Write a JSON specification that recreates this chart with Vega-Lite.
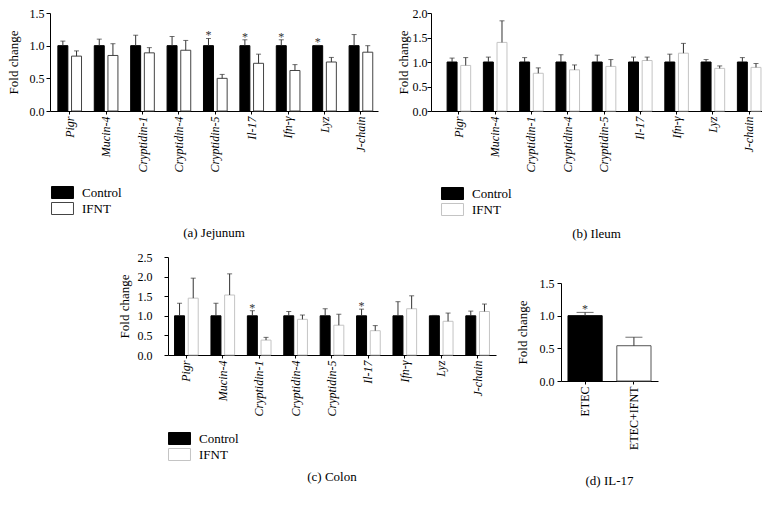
{
  "$schema": "https://vega.github.io/schema/vega-lite/v6.json",
  "padding": {"left": 7, "top": 7, "right": 0, "bottom": 0},
  "background": "white",
  "datasets": {
    "jejunum": [
      {"gene": "Pigr", "group": "Control", "mean": 1.0, "upper": 1.07, "sig": ""},
      {"gene": "Pigr", "group": "IFNT", "mean": 0.84, "upper": 0.92, "sig": ""},
      {"gene": "Mucin-4", "group": "Control", "mean": 1.0, "upper": 1.10, "sig": ""},
      {"gene": "Mucin-4", "group": "IFNT", "mean": 0.85, "upper": 1.03, "sig": ""},
      {"gene": "Cryptidin-1", "group": "Control", "mean": 1.0, "upper": 1.16, "sig": ""},
      {"gene": "Cryptidin-1", "group": "IFNT", "mean": 0.89, "upper": 0.97, "sig": ""},
      {"gene": "Cryptidin-4", "group": "Control", "mean": 1.0, "upper": 1.14, "sig": ""},
      {"gene": "Cryptidin-4", "group": "IFNT", "mean": 0.93, "upper": 1.08, "sig": ""},
      {"gene": "Cryptidin-5", "group": "Control", "mean": 1.0, "upper": 1.11, "sig": "*"},
      {"gene": "Cryptidin-5", "group": "IFNT", "mean": 0.50, "upper": 0.56, "sig": ""},
      {"gene": "Il-17", "group": "Control", "mean": 1.0, "upper": 1.09, "sig": "*"},
      {"gene": "Il-17", "group": "IFNT", "mean": 0.73, "upper": 0.87, "sig": ""},
      {"gene": "Ifn-γ", "group": "Control", "mean": 1.0, "upper": 1.09, "sig": "*"},
      {"gene": "Ifn-γ", "group": "IFNT", "mean": 0.62, "upper": 0.71, "sig": ""},
      {"gene": "Lyz", "group": "Control", "mean": 1.0, "upper": 1.005, "sig": "*"},
      {"gene": "Lyz", "group": "IFNT", "mean": 0.75, "upper": 0.82, "sig": ""},
      {"gene": "J-chain", "group": "Control", "mean": 1.0, "upper": 1.17, "sig": ""},
      {"gene": "J-chain", "group": "IFNT", "mean": 0.90, "upper": 1.00, "sig": ""}
    ],
    "ileum": [
      {"gene": "Pigr", "group": "Control", "mean": 1.0, "upper": 1.08, "sig": ""},
      {"gene": "Pigr", "group": "IFNT", "mean": 0.93, "upper": 1.09, "sig": ""},
      {"gene": "Mucin-4", "group": "Control", "mean": 1.0, "upper": 1.10, "sig": ""},
      {"gene": "Mucin-4", "group": "IFNT", "mean": 1.40, "upper": 1.84, "sig": ""},
      {"gene": "Cryptidin-1", "group": "Control", "mean": 1.0, "upper": 1.09, "sig": ""},
      {"gene": "Cryptidin-1", "group": "IFNT", "mean": 0.77, "upper": 0.88, "sig": ""},
      {"gene": "Cryptidin-4", "group": "Control", "mean": 1.0, "upper": 1.15, "sig": ""},
      {"gene": "Cryptidin-4", "group": "IFNT", "mean": 0.84, "upper": 0.94, "sig": ""},
      {"gene": "Cryptidin-5", "group": "Control", "mean": 1.0, "upper": 1.14, "sig": ""},
      {"gene": "Cryptidin-5", "group": "IFNT", "mean": 0.91, "upper": 1.05, "sig": ""},
      {"gene": "Il-17", "group": "Control", "mean": 1.0, "upper": 1.10, "sig": ""},
      {"gene": "Il-17", "group": "IFNT", "mean": 1.03, "upper": 1.10, "sig": ""},
      {"gene": "Ifn-γ", "group": "Control", "mean": 1.0, "upper": 1.16, "sig": ""},
      {"gene": "Ifn-γ", "group": "IFNT", "mean": 1.18, "upper": 1.38, "sig": ""},
      {"gene": "Lyz", "group": "Control", "mean": 1.0, "upper": 1.05, "sig": ""},
      {"gene": "Lyz", "group": "IFNT", "mean": 0.87, "upper": 0.92, "sig": ""},
      {"gene": "J-chain", "group": "Control", "mean": 1.0, "upper": 1.09, "sig": ""},
      {"gene": "J-chain", "group": "IFNT", "mean": 0.89, "upper": 0.97, "sig": ""}
    ],
    "colon": [
      {"gene": "Pigr", "group": "Control", "mean": 1.0, "upper": 1.32, "sig": ""},
      {"gene": "Pigr", "group": "IFNT", "mean": 1.45, "upper": 1.96, "sig": ""},
      {"gene": "Mucin-4", "group": "Control", "mean": 1.0, "upper": 1.32, "sig": ""},
      {"gene": "Mucin-4", "group": "IFNT", "mean": 1.53, "upper": 2.07, "sig": ""},
      {"gene": "Cryptidin-1", "group": "Control", "mean": 1.0, "upper": 1.13, "sig": "*"},
      {"gene": "Cryptidin-1", "group": "IFNT", "mean": 0.38, "upper": 0.45, "sig": ""},
      {"gene": "Cryptidin-4", "group": "Control", "mean": 1.0, "upper": 1.11, "sig": ""},
      {"gene": "Cryptidin-4", "group": "IFNT", "mean": 0.91, "upper": 1.02, "sig": ""},
      {"gene": "Cryptidin-5", "group": "Control", "mean": 1.0, "upper": 1.18, "sig": ""},
      {"gene": "Cryptidin-5", "group": "IFNT", "mean": 0.76, "upper": 1.04, "sig": ""},
      {"gene": "Il-17", "group": "Control", "mean": 1.0, "upper": 1.17, "sig": "*"},
      {"gene": "Il-17", "group": "IFNT", "mean": 0.62, "upper": 0.75, "sig": ""},
      {"gene": "Ifn-γ", "group": "Control", "mean": 1.0, "upper": 1.36, "sig": ""},
      {"gene": "Ifn-γ", "group": "IFNT", "mean": 1.18, "upper": 1.51, "sig": ""},
      {"gene": "Lyz", "group": "Control", "mean": 1.0, "upper": 1.01, "sig": ""},
      {"gene": "Lyz", "group": "IFNT", "mean": 0.86, "upper": 1.07, "sig": ""},
      {"gene": "J-chain", "group": "Control", "mean": 1.0, "upper": 1.12, "sig": ""},
      {"gene": "J-chain", "group": "IFNT", "mean": 1.11, "upper": 1.30, "sig": ""}
    ],
    "il17": [
      {"group": "ETEC", "mean": 1.0, "upper": 1.05, "sig": "*"},
      {"group": "ETEC+IFNT", "mean": 0.54, "upper": 0.67, "sig": ""}
    ]
  },
  "config": {
    "font": "Liberation Serif",
    "view": {"stroke": null},
    "style": {
      "guide-label": {"font": "Liberation Serif", "fontSize": 12, "fill": "#000"},
      "guide-title": {"font": "Liberation Serif", "fontSize": 13, "fontWeight": "normal", "fill": "#000"},
      "group-title": {"font": "Liberation Serif", "fontSize": 13, "fontWeight": "normal"}
    },
    "axis": {"domainColor": "#000", "tickColor": "#000", "grid": false, "tickSize": 4, "labelOverlap": false, "labelFont": "Liberation Serif", "labelFontSize": 12, "titleFont": "Liberation Serif", "titleFontSize": 13, "titleFontWeight": "normal"},
    "legend": {"labelFont": "Liberation Serif", "labelFontSize": 13, "labelColor": "#000"},
    "title": {"font": "Liberation Serif", "fontSize": 13, "fontWeight": "normal", "color": "#000", "orient": "bottom", "anchor": "middle"}
  },
  "align": "none",
  "resolve": {"scale": {"fill": "independent", "stroke": "independent", "xOffset": "independent"}, "legend": {"fill": "independent", "stroke": "independent"}},
  "vconcat": [
    {
      "align": "none",
      "hconcat": [
        {
          "width": 328, "height": 98,
          "data": {"name": "jejunum"},
          "title": {"text": "(a)  Jejunum", "offset": 10},
          "encoding": {
            "x": {"field": "gene", "type": "nominal", "sort": null, "scale": {"paddingInner": 0.35, "paddingOuter": 0.18, "align": 0.6}, "axis": {"title": null, "labelAngle": -90, "labelFont": "Liberation Serif", "labelFontSize": 12, "labelFontStyle": "italic", "labelColor": "#000", "labelPadding": 2, "tickSize": 3, "domainColor": "#000", "tickColor": "#000", "labelOverlap": false}},
            "xOffset": {"field": "group", "type": "nominal", "scale": {"paddingInner": 0.27}}
          },
          "layer": [
            {"mark": {"type": "bar", "strokeWidth": 1},
             "encoding": {
               "y": {"field": "mean", "type": "quantitative", "scale": {"domain": [0, 1.5], "nice": false}, "axis": {"title": "Fold change", "values": [0, 0.5, 1, 1.5], "format": ".1f", "labelFont": "Liberation Serif", "labelFontSize": 12, "labelColor": "#000", "titleFont": "Liberation Serif", "titleFontSize": 13, "titleFontWeight": "normal", "titleColor": "#000", "labelPadding": 2, "titlePadding": 9, "labelOverlap": false, "domainColor": "#000", "tickColor": "#000", "tickSize": 4}},
               "fill": {"field": "group", "type": "nominal", "scale": {"domain": ["Control", "IFNT"], "range": ["#000000", "#ffffff"]}, "legend": {"title": null, "orient": "none", "legendX": 6, "legendY": 173, "padding": 0, "symbolType": "M-1.83,-1H1.83V1H-1.83Z", "symbolSize": 144, "symbolStrokeWidth": 1, "labelOffset": 13, "rowPadding": -1, "labelFont": "Liberation Serif", "labelFontSize": 13, "labelColor": "#000"}},
               "stroke": {"field": "group", "type": "nominal", "scale": {"domain": ["Control", "IFNT"], "range": ["#000000", "#444444"]}, "legend": {"title": null, "orient": "none", "legendX": 6, "legendY": 173, "padding": 0, "symbolType": "M-1.83,-1H1.83V1H-1.83Z", "symbolSize": 144, "symbolStrokeWidth": 1, "labelOffset": 13, "rowPadding": -1, "labelFont": "Liberation Serif", "labelFontSize": 13, "labelColor": "#000"}}
             }},
            {"mark": {"type": "rule", "color": "#333"}, "encoding": {"y": {"field": "mean", "type": "quantitative", "axis": {"title": "Fold change", "values": [0, 0.5, 1, 1.5], "format": ".1f", "labelFont": "Liberation Serif", "labelFontSize": 12, "labelColor": "#000", "titleFont": "Liberation Serif", "titleFontSize": 13, "titleFontWeight": "normal", "titleColor": "#000", "labelPadding": 2, "titlePadding": 9, "labelOverlap": false, "domainColor": "#000", "tickColor": "#000", "tickSize": 4}}, "y2": {"field": "upper"}}},
            {"mark": {"type": "tick", "color": "#333", "thickness": 1, "size": 5}, "encoding": {"y": {"field": "upper", "type": "quantitative", "axis": {"title": "Fold change", "values": [0, 0.5, 1, 1.5], "format": ".1f", "labelFont": "Liberation Serif", "labelFontSize": 12, "labelColor": "#000", "titleFont": "Liberation Serif", "titleFontSize": 13, "titleFontWeight": "normal", "titleColor": "#000", "labelPadding": 2, "titlePadding": 9, "labelOverlap": false, "domainColor": "#000", "tickColor": "#000", "tickSize": 4}}}},
            {"mark": {"type": "text", "font": "Liberation Serif", "fontSize": 12, "baseline": "alphabetic", "dy": 1, "color": "#333"}, "encoding": {"y": {"field": "upper", "type": "quantitative", "axis": {"title": "Fold change", "values": [0, 0.5, 1, 1.5], "format": ".1f", "labelFont": "Liberation Serif", "labelFontSize": 12, "labelColor": "#000", "titleFont": "Liberation Serif", "titleFontSize": 13, "titleFontWeight": "normal", "titleColor": "#000", "labelPadding": 2, "titlePadding": 9, "labelOverlap": false, "domainColor": "#000", "tickColor": "#000", "tickSize": 4}}, "text": {"field": "sig"}}}
          ]
        },
        {
          "width": 331, "height": 98,
          "data": {"name": "ileum"},
          "title": {"text": "(b)  Ileum", "offset": 10},
          "encoding": {
            "x": {"field": "gene", "type": "nominal", "sort": null, "scale": {"paddingInner": 0.35, "paddingOuter": 0.236, "align": 0.94}, "axis": {"title": null, "labelAngle": -90, "labelFont": "Liberation Serif", "labelFontSize": 12, "labelFontStyle": "italic", "labelColor": "#000", "labelPadding": 2, "tickSize": 3, "domainColor": "#000", "tickColor": "#000", "labelOverlap": false}},
            "xOffset": {"field": "group", "type": "nominal", "scale": {"paddingInner": 0.27}}
          },
          "layer": [
            {"mark": {"type": "bar", "strokeWidth": 1},
             "encoding": {
               "y": {"field": "mean", "type": "quantitative", "scale": {"domain": [0, 2], "nice": false}, "axis": {"title": "Fold change", "values": [0, 0.5, 1, 1.5, 2], "format": ".1f", "labelFont": "Liberation Serif", "labelFontSize": 12, "labelColor": "#000", "titleFont": "Liberation Serif", "titleFontSize": 13, "titleFontWeight": "normal", "titleColor": "#000", "labelPadding": 0, "titlePadding": 2, "labelOverlap": false, "domainColor": "#000", "tickColor": "#000", "tickSize": 4}},
               "fill": {"field": "group", "type": "nominal", "scale": {"domain": ["Control", "IFNT"], "range": ["#000000", "#ffffff"]}, "legend": {"title": null, "orient": "none", "legendX": 15, "legendY": 174, "padding": 0, "symbolType": "M-1.83,-1H1.83V1H-1.83Z", "symbolSize": 144, "symbolStrokeWidth": 1, "labelOffset": 13, "rowPadding": -1, "labelFont": "Liberation Serif", "labelFontSize": 13, "labelColor": "#000"}},
               "stroke": {"field": "group", "type": "nominal", "scale": {"domain": ["Control", "IFNT"], "range": ["#000000", "#c4c4c4"]}, "legend": {"title": null, "orient": "none", "legendX": 15, "legendY": 174, "padding": 0, "symbolType": "M-1.83,-1H1.83V1H-1.83Z", "symbolSize": 144, "symbolStrokeWidth": 1, "labelOffset": 13, "rowPadding": -1, "labelFont": "Liberation Serif", "labelFontSize": 13, "labelColor": "#000"}}
             }},
            {"mark": {"type": "rule", "color": "#333"}, "encoding": {"y": {"field": "mean", "type": "quantitative", "axis": {"title": "Fold change", "values": [0, 0.5, 1, 1.5, 2], "format": ".1f", "labelFont": "Liberation Serif", "labelFontSize": 12, "labelColor": "#000", "titleFont": "Liberation Serif", "titleFontSize": 13, "titleFontWeight": "normal", "titleColor": "#000", "labelPadding": 0, "titlePadding": 2, "labelOverlap": false, "domainColor": "#000", "tickColor": "#000", "tickSize": 4}}, "y2": {"field": "upper"}}},
            {"mark": {"type": "tick", "color": "#333", "thickness": 1, "size": 5}, "encoding": {"y": {"field": "upper", "type": "quantitative", "axis": {"title": "Fold change", "values": [0, 0.5, 1, 1.5, 2], "format": ".1f", "labelFont": "Liberation Serif", "labelFontSize": 12, "labelColor": "#000", "titleFont": "Liberation Serif", "titleFontSize": 13, "titleFontWeight": "normal", "titleColor": "#000", "labelPadding": 0, "titlePadding": 2, "labelOverlap": false, "domainColor": "#000", "tickColor": "#000", "tickSize": 4}}}},
            {"mark": {"type": "text", "font": "Liberation Serif", "fontSize": 12, "baseline": "alphabetic", "dy": 1, "color": "#333"}, "encoding": {"y": {"field": "upper", "type": "quantitative", "axis": {"title": "Fold change", "values": [0, 0.5, 1, 1.5, 2], "format": ".1f", "labelFont": "Liberation Serif", "labelFontSize": 12, "labelColor": "#000", "titleFont": "Liberation Serif", "titleFontSize": 13, "titleFontWeight": "normal", "titleColor": "#000", "labelPadding": 0, "titlePadding": 2, "labelOverlap": false, "domainColor": "#000", "tickColor": "#000", "tickSize": 4}}, "text": {"field": "sig"}}}
          ]
        }
      ],
      "spacing": 19,
      "resolve": {"scale": {"fill": "independent", "stroke": "independent", "xOffset": "independent"}, "legend": {"fill": "independent", "stroke": "independent"}}
    },
    {
      "align": "none",
      "hconcat": [
        {"width": 48, "height": 10, "data": {"values": [{"a": 1}]}, "mark": {"type": "text"}, "encoding": {"text": {"value": ""}}},
        {
          "width": 328, "height": 98,
          "data": {"name": "colon"},
          "title": {"text": "(c)  Colon", "offset": 8},
          "encoding": {
            "x": {"field": "gene", "type": "nominal", "sort": null, "scale": {"paddingInner": 0.35, "paddingOuter": 0.18, "align": 0.5}, "axis": {"title": null, "labelAngle": -90, "labelFont": "Liberation Serif", "labelFontSize": 12, "labelFontStyle": "italic", "labelColor": "#000", "labelPadding": 2, "tickSize": 3, "domainColor": "#000", "tickColor": "#000", "labelOverlap": false}},
            "xOffset": {"field": "group", "type": "nominal", "scale": {"paddingInner": 0.27}}
          },
          "layer": [
            {"mark": {"type": "bar", "strokeWidth": 1},
             "encoding": {
               "y": {"field": "mean", "type": "quantitative", "scale": {"domain": [0, 2.5], "nice": false}, "axis": {"title": "Fold change", "values": [0, 0.5, 1, 1.5, 2, 2.5], "format": ".1f", "labelFont": "Liberation Serif", "labelFontSize": 12, "labelColor": "#000", "titleFont": "Liberation Serif", "titleFontSize": 13, "titleFontWeight": "normal", "titleColor": "#000", "labelPadding": 12, "titlePadding": 6, "labelOverlap": false, "domainColor": "#000", "tickColor": "#000", "tickSize": 4}},
               "fill": {"field": "group", "type": "nominal", "scale": {"domain": ["Control", "IFNT"], "range": ["#000000", "#ffffff"]}, "legend": {"title": null, "orient": "none", "legendX": 5, "legendY": 175, "padding": 0, "symbolType": "M-1.83,-1H1.83V1H-1.83Z", "symbolSize": 144, "symbolStrokeWidth": 1, "labelOffset": 13, "rowPadding": -1, "labelFont": "Liberation Serif", "labelFontSize": 13, "labelColor": "#000"}},
               "stroke": {"field": "group", "type": "nominal", "scale": {"domain": ["Control", "IFNT"], "range": ["#000000", "#c4c4c4"]}, "legend": {"title": null, "orient": "none", "legendX": 5, "legendY": 175, "padding": 0, "symbolType": "M-1.83,-1H1.83V1H-1.83Z", "symbolSize": 144, "symbolStrokeWidth": 1, "labelOffset": 13, "rowPadding": -1, "labelFont": "Liberation Serif", "labelFontSize": 13, "labelColor": "#000"}}
             }},
            {"mark": {"type": "rule", "color": "#333"}, "encoding": {"y": {"field": "mean", "type": "quantitative", "axis": {"title": "Fold change", "values": [0, 0.5, 1, 1.5, 2, 2.5], "format": ".1f", "labelFont": "Liberation Serif", "labelFontSize": 12, "labelColor": "#000", "titleFont": "Liberation Serif", "titleFontSize": 13, "titleFontWeight": "normal", "titleColor": "#000", "labelPadding": 12, "titlePadding": 6, "labelOverlap": false, "domainColor": "#000", "tickColor": "#000", "tickSize": 4}}, "y2": {"field": "upper"}}},
            {"mark": {"type": "tick", "color": "#333", "thickness": 1, "size": 5}, "encoding": {"y": {"field": "upper", "type": "quantitative", "axis": {"title": "Fold change", "values": [0, 0.5, 1, 1.5, 2, 2.5], "format": ".1f", "labelFont": "Liberation Serif", "labelFontSize": 12, "labelColor": "#000", "titleFont": "Liberation Serif", "titleFontSize": 13, "titleFontWeight": "normal", "titleColor": "#000", "labelPadding": 12, "titlePadding": 6, "labelOverlap": false, "domainColor": "#000", "tickColor": "#000", "tickSize": 4}}}},
            {"mark": {"type": "text", "font": "Liberation Serif", "fontSize": 12, "baseline": "alphabetic", "dy": 1, "color": "#333"}, "encoding": {"y": {"field": "upper", "type": "quantitative", "axis": {"title": "Fold change", "values": [0, 0.5, 1, 1.5, 2, 2.5], "format": ".1f", "labelFont": "Liberation Serif", "labelFontSize": 12, "labelColor": "#000", "titleFont": "Liberation Serif", "titleFontSize": 13, "titleFontWeight": "normal", "titleColor": "#000", "labelPadding": 12, "titlePadding": 6, "labelOverlap": false, "domainColor": "#000", "tickColor": "#000", "tickSize": 4}}, "text": {"field": "sig"}}}
          ]
        },
        {
          "align": "none",
          "vconcat": [
            {"width": 1, "height": 12, "data": {"values": [{"a": 1}]}, "mark": {"type": "text"}, "encoding": {"text": {"value": ""}}},
            {
              "width": 97, "height": 98,
              "data": {"name": "il17"},
              "title": {"text": "(d)  IL-17", "offset": 26},
              "encoding": {
                "x": {"field": "group", "type": "nominal", "sort": null, "scale": {"paddingInner": 0.3, "paddingOuter": 0.143}, "axis": {"title": null, "labelAngle": -90, "labelFont": "Liberation Serif", "labelFontSize": 12, "labelColor": "#000", "labelPadding": 2, "tickSize": 3, "domainColor": "#000", "tickColor": "#000", "labelOverlap": false}}
              },
              "layer": [
                {"mark": {"type": "bar", "strokeWidth": 1},
                 "encoding": {
                   "y": {"field": "mean", "type": "quantitative", "scale": {"domain": [0, 1.5], "nice": false}, "axis": {"title": "Fold change", "values": [0, 0.5, 1, 1.5], "format": ".1f", "labelFont": "Liberation Serif", "labelFontSize": 12, "labelColor": "#000", "titleFont": "Liberation Serif", "titleFontSize": 13, "titleFontWeight": "normal", "titleColor": "#000", "labelPadding": 3, "titlePadding": 10, "labelOverlap": false, "domainColor": "#000", "tickColor": "#000", "tickSize": 4}},
                   "fill": {"field": "group", "type": "nominal", "scale": {"domain": ["ETEC", "ETEC+IFNT"], "range": ["#000000", "#ffffff"]}, "legend": null},
                   "stroke": {"field": "group", "type": "nominal", "scale": {"domain": ["ETEC", "ETEC+IFNT"], "range": ["#000000", "#555555"]}, "legend": null}
                 }},
                {"mark": {"type": "rule", "color": "#333"}, "encoding": {"y": {"field": "mean", "type": "quantitative", "axis": {"title": "Fold change", "values": [0, 0.5, 1, 1.5], "format": ".1f", "labelFont": "Liberation Serif", "labelFontSize": 12, "labelColor": "#000", "titleFont": "Liberation Serif", "titleFontSize": 13, "titleFontWeight": "normal", "titleColor": "#000", "labelPadding": 3, "titlePadding": 10, "labelOverlap": false, "domainColor": "#000", "tickColor": "#000", "tickSize": 4}}, "y2": {"field": "upper"}}},
                {"mark": {"type": "tick", "color": "#333", "thickness": 1, "size": 17}, "encoding": {"y": {"field": "upper", "type": "quantitative", "axis": {"title": "Fold change", "values": [0, 0.5, 1, 1.5], "format": ".1f", "labelFont": "Liberation Serif", "labelFontSize": 12, "labelColor": "#000", "titleFont": "Liberation Serif", "titleFontSize": 13, "titleFontWeight": "normal", "titleColor": "#000", "labelPadding": 3, "titlePadding": 10, "labelOverlap": false, "domainColor": "#000", "tickColor": "#000", "tickSize": 4}}}},
                {"mark": {"type": "text", "font": "Liberation Serif", "fontSize": 12, "baseline": "alphabetic", "dy": 1, "color": "#333"}, "encoding": {"y": {"field": "upper", "type": "quantitative", "axis": {"title": "Fold change", "values": [0, 0.5, 1, 1.5], "format": ".1f", "labelFont": "Liberation Serif", "labelFontSize": 12, "labelColor": "#000", "titleFont": "Liberation Serif", "titleFontSize": 13, "titleFontWeight": "normal", "titleColor": "#000", "labelPadding": 3, "titlePadding": 10, "labelOverlap": false, "domainColor": "#000", "tickColor": "#000", "tickSize": 4}}, "text": {"field": "sig"}}}
              ]
            }
          ],
          "spacing": 8
        }
      ],
      "spacing": 20,
      "resolve": {"scale": {"fill": "independent", "stroke": "independent", "xOffset": "independent"}, "legend": {"fill": "independent", "stroke": "independent"}}
    }
  ],
  "spacing": 10
}
